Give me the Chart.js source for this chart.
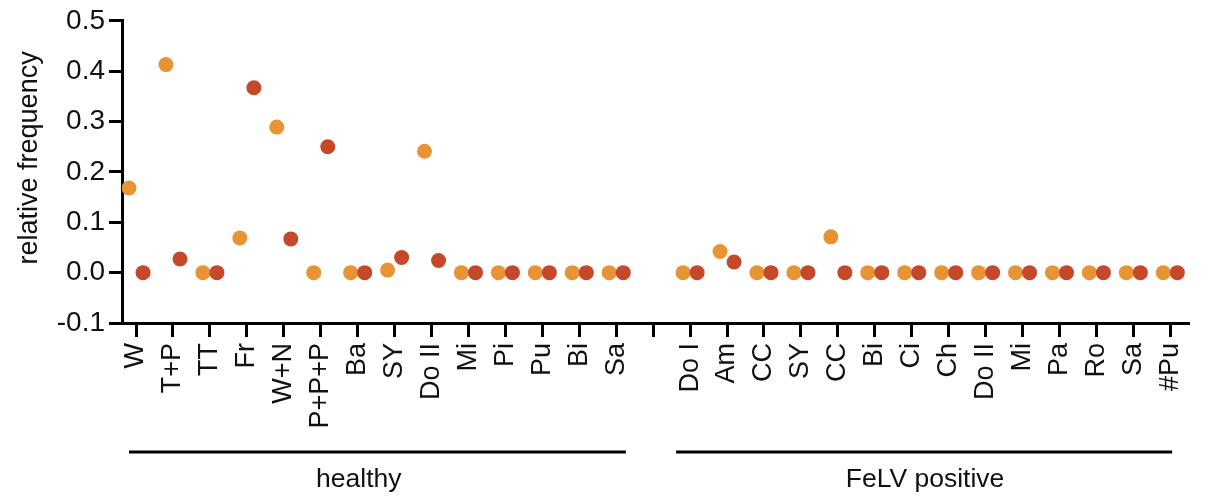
<!DOCTYPE html>
<html>
<head>
<meta charset="utf-8">
<style>
  html, body { margin: 0; padding: 0; background: #fff; }
</style>
<script src="https://cdn.jsdelivr.net/npm/chart.js@4.4.0/dist/chart.umd.min.js"></script>
</head>
<body>
<canvas id="chart" width="1209" height="503"></canvas>
<script>
// Подписи по оси X (пустая строка — промежуток между группами)
const labels = [
  "W", "T+P", "TT", "Fr", "W+N", "P+P+P", "Ba", "SY", "Do II", "Mi", "Pi", "Pu", "Bi", "Sa",
  "",
  "Do I", "Am", "CC", "SY", "CC", "Bi", "Ci", "Ch", "Do II", "Mi", "Pa", "Ro", "Sa", "#Pu",
];

// Значения (null — промежуток)
const orangeValues = [
  0.168, 0.413, 0, 0.069, 0.289, 0, 0, 0.005, 0.241, 0, 0, 0, 0, 0,
  null,
  0, 0.042, 0, 0, 0.071, 0, 0, 0, 0, 0, 0, 0, 0, 0,
];
const redValues = [
  0, 0.027, 0, 0.367, 0.067, 0.25, 0, 0.03, 0.024, 0, 0, 0, 0, 0,
  null,
  0, 0.021, 0, 0, 0, 0, 0, 0, 0, 0, 0, 0, 0, 0,
];

const yTicks = [-0.1, 0, 0.1, 0.2, 0.3, 0.4, 0.5];

// Группы под осью X
const groupNames = ["healthy", "FeLV positive"];
const groupFrom = [0, 15];
const groupTo = [13, 28];

const FONT = "'Liberation Sans', Arial, Helvetica, sans-serif";
const ORANGE = "#E99434";
const RED = "#C5482A";

function toPoints(values, shift) {
  return values
    .map((v, i) => (v === null ? null : { x: i + shift, y: v }))
    .filter((p) => p !== null);
}

// Линии групп, подписи групп и подпись оси Y
const extrasPlugin = {
  id: "extras",
  afterDraw(chart) {
    const { ctx, scales, chartArea } = chart;
    const x = scales.x;
    ctx.save();
    ctx.strokeStyle = "#000";
    ctx.lineWidth = 3;
    ctx.fillStyle = "#111";
    ctx.font = "26.5px " + FONT;
    ctx.textAlign = "center";
    ctx.textBaseline = "alphabetic";
    const startPad = [-0.19, -0.38];
    const endPad = [0.26, 0.05];
    const textAt = [6.03, 21.36];
    groupNames.forEach((name, g) => {
      const x1 = x.getPixelForValue(groupFrom[g] + startPad[g]);
      const x2 = x.getPixelForValue(groupTo[g] + endPad[g]);
      ctx.beginPath();
      ctx.moveTo(x1, 452);
      ctx.lineTo(x2, 452);
      ctx.stroke();
      ctx.fillText(name, x.getPixelForValue(textAt[g]), 487);
    });
    // подпись оси Y
    ctx.font = "27px " + FONT;
    ctx.translate(30, (chartArea.top + chartArea.bottom) / 2 - 14);
    ctx.rotate(-Math.PI / 2);
    ctx.textBaseline = "middle";
    ctx.fillText("relative frequency", 0, 0);
    ctx.restore();
  },
};

const axisGrid = {
  drawOnChartArea: false,
  drawTicks: true,
  color: "#000",
  lineWidth: 3,
};

new Chart(document.getElementById("chart"), {
  type: "scatter",
  data: {
    datasets: [
      {
        label: "red",
        data: toPoints(redValues, 0.19),
        backgroundColor: RED,
        borderColor: RED,
        borderWidth: 0,
        pointRadius: 7.5,
        order: 1,
      },
      {
        label: "orange",
        data: toPoints(orangeValues, -0.19),
        backgroundColor: ORANGE,
        borderColor: ORANGE,
        borderWidth: 0,
        pointRadius: 7.5,
        order: 2,
      },
    ],
  },
  options: {
    responsive: false,
    animation: false,
    layout: { padding: { top: 20, right: 18, left: 0, bottom: 0 } },
    plugins: {
      legend: { display: false },
      tooltip: { enabled: false },
    },
    scales: {
      x: {
        type: "linear",
        min: -0.38,
        max: 28.49,
        afterBuildTicks: (s) => {
          s.ticks = labels.map((_, i) => ({ value: i }));
        },
        afterFit: (s) => {
          s.height = 180;
        },
        ticks: {
          autoSkip: false,
          minRotation: 90,
          maxRotation: 90,
          padding: 6,
          color: "#111",
          font: { family: FONT, size: 27 },
          callback: (v) => labels[v] ?? "",
        },
        grid: { ...axisGrid, tickLength: 14 },
        border: { color: "#000", width: 3 },
      },
      y: {
        min: -0.1,
        max: 0.5,
        afterBuildTicks: (s) => {
          s.ticks = yTicks.map((v) => ({ value: v }));
        },
        afterFit: (s) => {
          s.width = 122;
        },
        ticks: {
          padding: 4,
          color: "#111",
          font: { family: FONT, size: 28 },
          callback: (v) => v.toFixed(1),
        },
        grid: { ...axisGrid, tickLength: 13 },
        border: { color: "#000", width: 3 },
      },
    },
  },
  plugins: [extrasPlugin],
});
</script>
</body>
</html>
